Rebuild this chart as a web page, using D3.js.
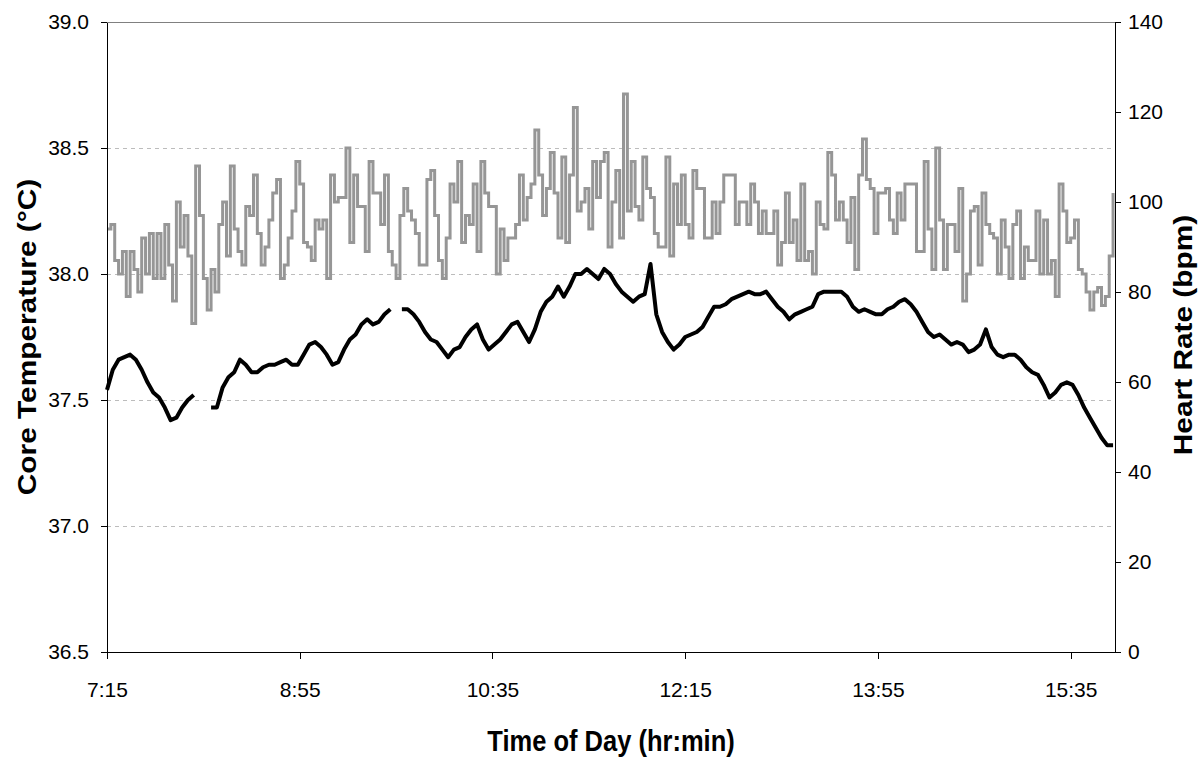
<!DOCTYPE html>
<html lang="en">
<head>
<meta charset="utf-8">
<script src="https://d3js.org/d3.v7.min.js"></script>
<style>
    body { margin: 0; background: #fff; }
    svg text { font-family: "Liberation Sans", Arial, sans-serif; fill: #000; }
    .tick text { font-size: 21px; }
    .axis path, .axis line { stroke: #000; stroke-width: 1px; shape-rendering: crispEdges; }
    .grid { stroke: #bcbcbc; stroke-width: 1px; stroke-dasharray: 4,4; shape-rendering: crispEdges; }
    .title { font-size: 25.5px; font-weight: bold; }
</style>
</head>
<body>
<svg></svg>
<script>
    const width = 1200;
    const height = 757;

    // minutes after 7:15, one heart rate value every 2 min, one core temp every 3 min
    const totalMinutes = 523;
    const hrStep = 2;
    const tempStep = 3;

    const timeTickMinutes = [0, 100, 200, 300, 400, 500];
    const timeTickLabels = ['7:15', '8:55', '10:35', '12:15', '13:55', '15:35'];
    const tempTicks = [36.5, 37.0, 37.5, 38.0, 38.5, 39.0];
    const tempGrid = [37.0, 37.5, 38.0, 38.5];
    const hrTicks = [0, 20, 40, 60, 80, 100, 120, 140];

    const heartRate = [
        94, 95, 87, 84, 89, 79, 89, 85, 80, 92,
        84, 93, 83, 93, 83, 95, 86, 78, 100, 90,
        97, 88, 73, 108, 97, 83, 76, 85, 80, 95,
        100, 88, 108, 94, 89, 86, 99, 97, 106, 93,
        86, 90, 96, 102, 105, 83, 86, 92, 98, 109,
        104, 91, 90, 87, 96, 94, 96, 83, 106, 100,
        101, 101, 112, 91, 106, 99, 99, 89, 109, 102,
        102, 95, 106, 89, 86, 83, 97, 103, 98, 96,
        93, 86, 86, 105, 107, 97, 87, 83, 92, 104,
        100, 109, 91, 97, 95, 104, 89, 109, 102, 99,
        99, 84, 94, 87, 92, 92, 95, 106, 96, 101,
        104, 116, 106, 97, 103, 111, 102, 92, 110, 91,
        106, 121, 98, 100, 103, 94, 109, 101, 109, 111,
        90, 100, 107, 92, 124, 98, 109, 99, 96, 110,
        103, 101, 93, 90, 90, 110, 88, 104, 95, 106,
        95, 92, 107, 103, 103, 92, 92, 100, 93, 100,
        106, 106, 106, 95, 100, 100, 95, 104, 100, 93,
        98, 93, 93, 98, 86,
        91, 102, 91, 96, 87, 104, 87, 89, 84, 100,
        95, 94, 111, 106, 96, 100, 96, 91, 101, 85,
        106, 114, 105, 103, 93, 102, 102, 103, 96, 93,
        102, 96, 104, 104, 104, 89, 89, 109, 94, 85,
        112, 96, 85, 95, 95, 89, 103, 78, 84, 98,
        99, 86, 102, 95, 93, 92, 84, 96, 90, 83,
        95, 98, 83, 90, 87, 87, 98, 84, 96, 84,
        87, 79, 104, 98, 91, 92, 96, 85, 84, 80,
        76, 80, 81, 77, 79, 88, 102
    ];

    const coreTemp = [
        37.54, 37.62, 37.66, 37.67, 37.68, 37.66, 37.62, 37.57, 37.53, 37.51,
        37.47, 37.42, 37.43, 37.47, 37.50, 37.52, null, null, 37.47, 37.47,
        37.55, 37.59, 37.61, 37.66, 37.64, 37.61, 37.61, 37.63, 37.64, 37.64,
        37.65, 37.66, 37.64, 37.64, 37.68, 37.72, 37.73, 37.71, 37.68, 37.64,
        37.65, 37.70, 37.74, 37.76, 37.80, 37.82, 37.80, 37.81, 37.84, 37.86,
        null, 37.86, 37.86, 37.84, 37.81, 37.77, 37.74, 37.73, 37.70, 37.67,
        37.70, 37.71, 37.75, 37.78, 37.80, 37.74, 37.70, 37.72, 37.74, 37.77,
        37.80, 37.81, 37.77, 37.73, 37.78, 37.85, 37.89, 37.91, 37.95, 37.91,
        37.95, 38.00, 38.00, 38.02, 38.00, 37.98, 38.02, 38.00, 37.96, 37.93,
        37.91, 37.89, 37.91, 37.92, 38.04, 37.84, 37.77, 37.73, 37.70, 37.72,
        37.75, 37.76, 37.77, 37.79, 37.83, 37.87, 37.87, 37.88, 37.90, 37.91,
        37.92, 37.93, 37.92, 37.92, 37.93, 37.90, 37.87,
        37.85, 37.82, 37.84, 37.85, 37.86, 37.87, 37.92, 37.93, 37.93, 37.93,
        37.93, 37.91, 37.87, 37.85, 37.86, 37.85, 37.84, 37.84, 37.86, 37.87,
        37.89, 37.90, 37.88, 37.85, 37.81, 37.77, 37.75, 37.76, 37.74, 37.72,
        37.73, 37.72, 37.69, 37.70, 37.72, 37.78, 37.71, 37.68, 37.67, 37.68,
        37.68, 37.66, 37.63, 37.61, 37.60, 37.56, 37.51, 37.53, 37.56, 37.57,
        37.56, 37.52, 37.47, 37.43, 37.39, 37.35, 37.32, 37.32
    ];

    const svg = d3.select('svg').attr('width', width).attr('height', height);

    const x = d3.scaleLinear().domain([0, totalMinutes]).range([107, 1115]);
    const yTemp = d3.scaleLinear().domain([36.5, 39.0]).range([652, 22]);
    const yHr = d3.scaleLinear().domain([0, 140]).range([652, 22]);

    // grid lines
    svg.selectAll('line.grid').data(tempGrid).enter().append('line')
        .attr('class', 'grid')
        .attr('x1', x(0)).attr('x2', x(totalMinutes))
        .attr('y1', d => yTemp(d)).attr('y2', d => yTemp(d));
    svg.append('line')
        .attr('x1', x(0)).attr('x2', x(totalMinutes))
        .attr('y1', yTemp(39)).attr('y2', yTemp(39))
        .attr('stroke', '#808080').attr('shape-rendering', 'crispEdges');

    // heart rate (grey, stepped)
    const hrData = heartRate.map((v, i) => ({t: i * hrStep, v: v}));
    svg.append('path')
        .datum(hrData)
        .attr('fill', 'none')
        .attr('stroke', '#969696')
        .attr('stroke-width', 3)
        .attr('d', d3.line().x(d => x(d.t)).y(d => yHr(d.v)).curve(d3.curveStepAfter));

    // core temperature (black)
    const tempData = coreTemp.map((v, i) => ({t: i * tempStep, v: v}));
    svg.append('path')
        .datum(tempData)
        .attr('fill', 'none')
        .attr('stroke', '#000')
        .attr('stroke-width', 4)
        .attr('stroke-linejoin', 'round')
        .attr('d', d3.line().defined(d => d.v !== null).x(d => x(d.t)).y(d => yTemp(d.v)));

    // axes
    svg.append('g').attr('class', 'axis')
        .attr('transform', `translate(0,${yTemp(36.5)})`)
        .call(d3.axisBottom(x).tickValues(timeTickMinutes)
            .tickFormat((d, i) => timeTickLabels[i]).tickSize(7).tickSizeOuter(0).tickPadding(23));

    svg.append('g').attr('class', 'axis')
        .attr('transform', `translate(${x(0)},0)`)
        .call(d3.axisLeft(yTemp).tickValues(tempTicks)
            .tickFormat(d3.format('.1f')).tickSize(6).tickSizeOuter(0).tickPadding(12));

    svg.append('g').attr('class', 'axis')
        .attr('transform', `translate(${x(totalMinutes)},0)`)
        .call(d3.axisRight(yHr).tickValues(hrTicks).tickSize(6).tickSizeOuter(0).tickPadding(7));

    svg.selectAll('.axis text').attr('font-family', null).attr('font-size', null);

    // titles
    svg.append('text').attr('class', 'title')
        .attr('transform', 'translate(27,337) rotate(-90) scale(1.17,1)')
        .attr('text-anchor', 'middle').attr('dominant-baseline', 'central')
        .text('Core Temperature (°C)');
    svg.append('text').attr('class', 'title')
        .attr('transform', 'translate(1183,335) rotate(-90) scale(1.17,1)')
        .attr('text-anchor', 'middle').attr('dominant-baseline', 'central')
        .text('Heart Rate (bpm)');
    svg.append('text').attr('class', 'title')
        .attr('transform', 'translate(611,741) scale(1,1.15)')
        .attr('text-anchor', 'middle').attr('dominant-baseline', 'central')
        .text('Time of Day (hr:min)');
</script>
</body>
</html>
